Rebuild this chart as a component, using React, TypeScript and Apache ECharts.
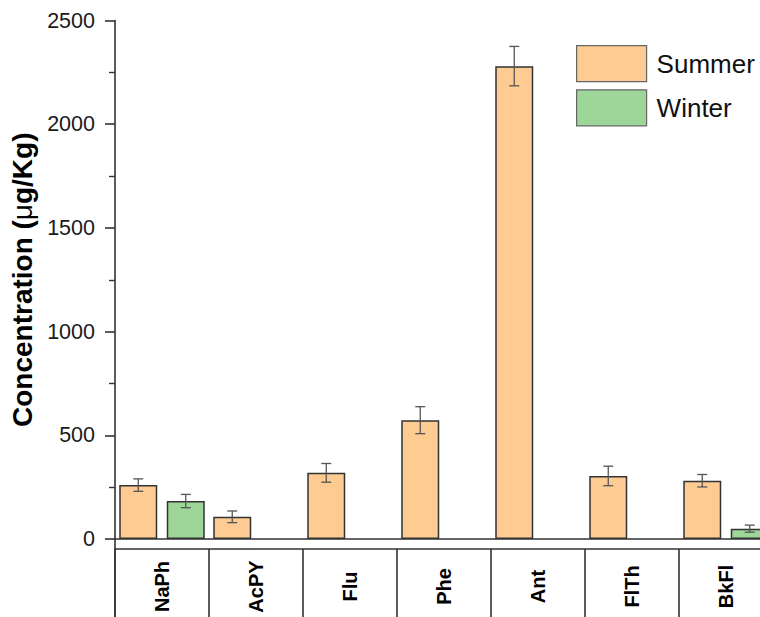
import React, { useEffect, useRef } from "react";
import * as echarts from "echarts";

// PAH concentrations by compound, summer vs winter
const categories = ["NaPh", "AcPY", "Flu", "Phe", "Ant", "FlTh", "BkFl"];
const summerValues = [260, 107, 319, 573, 2280, 304, 281];
const summerErrors = [30, 28, 45, 65, 95, 47, 30];
const winterValues: (number | null)[] = [183, null, null, null, null, null, 50];
const winterErrors: (number | null)[] = [32, null, null, null, null, null, 17];

const yTickMax = 2500;
const yTickStep = 500;

const SUMMER_COLOR = "#FECB92";
const WINTER_COLOR = "#9ED69A";
const AXIS_COLOR = "#333333";
const FONT = "Liberation Sans, Arial, sans-serif";

const BAR_WIDTH = 38;
const BAR_GAP_RATIO = 0.25;
const BAR_SHIFT = (BAR_WIDTH + BAR_WIDTH * BAR_GAP_RATIO) / 2;

function errorSeries(
  name: string,
  values: (number | null)[],
  errors: (number | null)[],
  shift: number
) {
  const data: number[][] = [];
  values.forEach((v, i) => {
    const e = errors[i];
    if (v != null && e != null) data.push([i, v - e, v + e]);
  });
  return {
    type: "custom",
    name,
    data,
    encode: { x: 0, y: [1, 2] },
    z: 10,
    silent: true,
    clip: false,
    renderItem: (_params: any, api: any) => {
      const i = api.value(0);
      const lo = api.coord([i, api.value(1)]);
      const hi = api.coord([i, api.value(2)]);
      const x = lo[0] + shift;
      const cap = 5;
      const style = { stroke: "#555555", lineWidth: 1.3 };
      return {
        type: "group",
        children: [
          { type: "line", shape: { x1: x, y1: lo[1], x2: x, y2: hi[1] }, style },
          { type: "line", shape: { x1: x - cap, y1: hi[1], x2: x + cap, y2: hi[1] }, style },
          { type: "line", shape: { x1: x - cap, y1: lo[1], x2: x + cap, y2: lo[1] }, style },
        ],
      };
    },
  };
}

export default function App() {
  const ref = useRef<HTMLDivElement>(null);

  useEffect(() => {
    if (!ref.current) return;
    const chart = echarts.init(ref.current, null, { renderer: "svg" });

    const option: any = {
      animation: false,
      backgroundColor: "#ffffff",
      textStyle: { fontFamily: FONT },
      grid: {
        left: 115,
        top: 20.5,
        width: 7 * 94,
        height: 518.5,
        outerBoundsMode: "none",
        containLabel: false,
      },
      legend: {
        data: ["Summer", "Winter"],
        orient: "vertical",
        left: 576,
        top: 45,
        padding: 0,
        icon: "rect",
        itemWidth: 70,
        itemHeight: 36,
        itemGap: 7,
        itemStyle: { borderColor: "#666666", borderWidth: 1.2 },
        textStyle: { fontSize: 26, color: "#111111", fontFamily: FONT, padding: [0, 0, 0, 5] },
      },
      xAxis: [
        {
          type: "category",
          data: categories,
          position: "bottom",
          axisLine: { show: true, lineStyle: { color: AXIS_COLOR, width: 1.6 } },
          axisTick: { show: false },
          axisLabel: { show: false },
          splitLine: { show: false },
        },
        {
          type: "category",
          data: categories,
          position: "bottom",
          offset: 10,
          axisLine: { show: true, lineStyle: { color: AXIS_COLOR, width: 1.6 } },
          axisTick: { show: true, length: 70, lineStyle: { color: AXIS_COLOR, width: 1.6 } },
          axisLabel: {
            rotate: 90,
            align: "center",
            verticalAlign: "middle",
            margin: 37.5,
            fontSize: 20,
            fontWeight: "bold",
            color: "#000000",
            fontFamily: FONT,
          },
          splitLine: { show: false },
        },
      ],
      yAxis: {
        type: "value",
        min: 0,
        max: yTickMax,
        interval: yTickStep,
        name: "{b|Concentration (}{n|μ}{b|g/Kg)}",
        nameLocation: "middle",
        nameRotate: 90,
        nameGap: 66,
        nameTextStyle: {
          rich: {
            b: { fontSize: 28, fontWeight: "bold", color: "#000000", fontFamily: FONT },
            n: { fontSize: 28, fontWeight: "normal", color: "#000000", fontFamily: FONT },
          },
        },
        axisLine: { show: true, lineStyle: { color: AXIS_COLOR, width: 1.6 } },
        axisTick: { show: true, inside: false, length: 10, lineStyle: { color: AXIS_COLOR, width: 1.6 } },
        minorTick: { show: true, splitNumber: 2, length: 6, lineStyle: { color: AXIS_COLOR, width: 1.4 } },
        axisLabel: {
          margin: 20,
          fontSize: 21.5,
          color: "#1a1a1a",
          fontFamily: FONT,
          formatter: (v: number) => String(v),
        },
        splitLine: { show: false },
      },
      series: [
        {
          name: "Summer",
          type: "bar",
          data: summerValues,
          barWidth: BAR_WIDTH,
          barGap: `${BAR_GAP_RATIO * 100}%`,
          itemStyle: { color: SUMMER_COLOR, borderColor: AXIS_COLOR, borderWidth: 1.5 },
        },
        {
          name: "Winter",
          type: "bar",
          data: winterValues,
          barWidth: BAR_WIDTH,
          barGap: `${BAR_GAP_RATIO * 100}%`,
          itemStyle: { color: WINTER_COLOR, borderColor: AXIS_COLOR, borderWidth: 1.5 },
        },
        errorSeries("Summer SD", summerValues, summerErrors, -BAR_SHIFT),
        errorSeries("Winter SD", winterValues, winterErrors, BAR_SHIFT),
      ],
    };

    chart.setOption(option);

    // carry the value axis line down past the category table
    const origin = chart.convertToPixel({ xAxisIndex: 0, yAxisIndex: 0 }, [0, 0]) as number[];
    const leftEdge = (chart as any).getModel().getComponent("grid", 0).coordinateSystem.getRect().x;
    chart.setOption({
      graphic: [
        {
          type: "line",
          shape: { x1: leftEdge, y1: origin[1], x2: leftEdge, y2: 617 },
          style: { stroke: AXIS_COLOR, lineWidth: 1.6 },
          z: 20,
        },
      ],
    });

    return () => chart.dispose();
  }, []);

  return (
    <div
      ref={ref}
      style={{ position: "fixed", left: 0, top: 0, width: 760, height: 617, background: "#fff" }}
    />
  );
}
